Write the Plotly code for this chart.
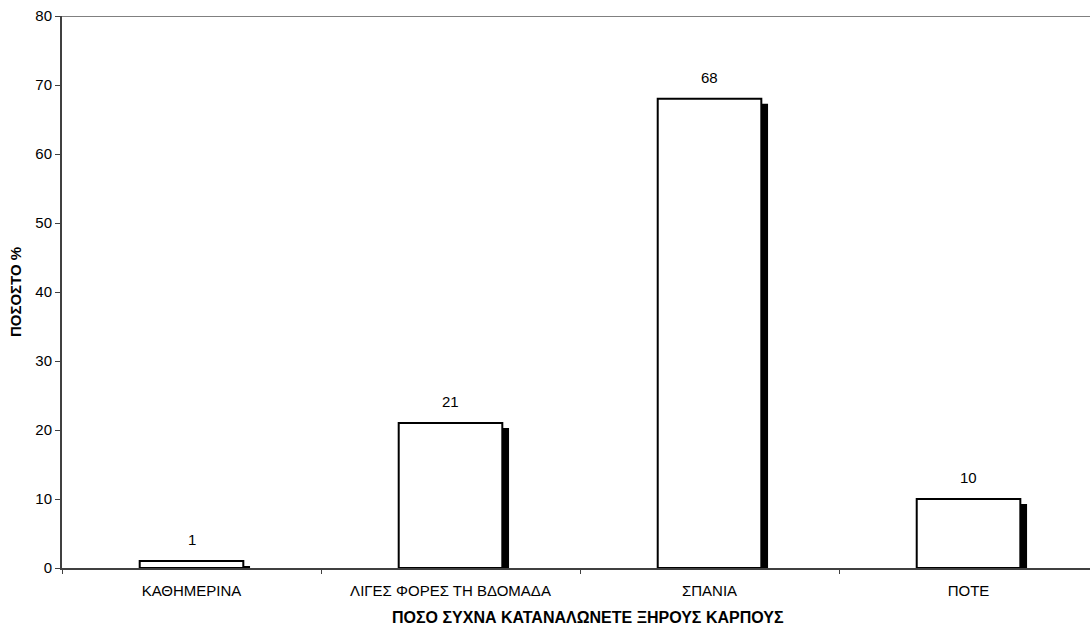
import plotly.graph_objects as go

# Survey: how often do you eat dried nuts (percentages)
categories = ["ΚΑΘΗΜΕΡΙΝΑ", "ΛΙΓΕΣ ΦΟΡΕΣ ΤΗ ΒΔΟΜΑΔΑ", "ΣΠΑΝΙΑ", "ΠΟΤΕ"]
percentages = [1, 21, 68, 10]
y_ticks = [0, 10, 20, 30, 40, 50, 60, 70, 80]

x_title = "ΠΟΣΟ ΣΥΧΝΑ ΚΑΤΑΝΑΛΩΝΕΤΕ ΞΗΡΟΥΣ ΚΑΡΠΟΥΣ"
y_title = "ΠΟΣΟΣΤΟ %"

FONT = "Liberation Sans, Arial, sans-serif"
BAR_W = 0.40
SHADOW_DX = 0.026   # shadow shift to the right, in category units
SHADOW_DY = 0.72    # shadow drop, in percentage units

fig = go.Figure()

# drop shadow behind each bar
fig.add_trace(go.Bar(
    x=categories,
    y=percentages,
    base=[-SHADOW_DY] * len(percentages),
    width=BAR_W,
    offset=-BAR_W / 2 + SHADOW_DX,
    marker=dict(color="#000000", line=dict(width=0)),
    hoverinfo="skip",
    showlegend=False,
))

# white bars with black outline
fig.add_trace(go.Bar(
    x=categories,
    y=percentages,
    width=BAR_W,
    offset=-BAR_W / 2,
    marker=dict(color="#ffffff", line=dict(color="#000000", width=2)),
    showlegend=False,
))

# value labels above the bars
for cat, val in zip(categories, percentages):
    fig.add_annotation(
        x=cat, y=val, text=str(val), showarrow=False,
        yanchor="bottom", yshift=11,
        font=dict(family=FONT, size=15, color="#000000"),
    )

# x-axis title, placed under the category labels
fig.add_annotation(
    text="<b>" + x_title + "</b>", showarrow=False,
    xref="paper", yref="paper", x=0.512, y=-0.0888,
    xanchor="center", yanchor="middle",
    font=dict(family=FONT, size=16, color="#000000"),
)

# thin frame line along the top of the plot area
fig.add_shape(
    type="line", xref="paper", yref="y", x0=0, x1=1, y0=80, y1=80,
    line=dict(color="#808080", width=2), layer="below",
)

fig.update_layout(
    width=1090, height=630,
    margin=dict(l=62, r=0, t=16, b=62),
    paper_bgcolor="#ffffff", plot_bgcolor="#ffffff",
    barmode="overlay",
    font=dict(family=FONT, size=15, color="#000000"),
    xaxis=dict(
        type="category",
        categoryorder="array", categoryarray=categories,
        range=[-0.5, 3.469],
        showline=True, linecolor="#404040", linewidth=2,
        ticks="outside", tickson="boundaries", ticklen=4,
        tickcolor="#404040", tickwidth=1,
        ticklabelstandoff=8,
        showgrid=False, zeroline=False,
        tickfont=dict(family=FONT, size=15, color="#000000"),
    ),
    yaxis=dict(
        range=[0, 80],
        tickvals=y_ticks,
        showline=True, linecolor="#404040", linewidth=2,
        ticks="outside", ticklen=5, tickcolor="#404040", tickwidth=1,
        showgrid=False, zeroline=False,
        tickfont=dict(family=FONT, size=15, color="#000000"),
        title=dict(text="<b>" + y_title + "</b>",
                   font=dict(family=FONT, size=15, color="#000000"),
                   standoff=10),
    ),
)

fig.write_html("out.html")
